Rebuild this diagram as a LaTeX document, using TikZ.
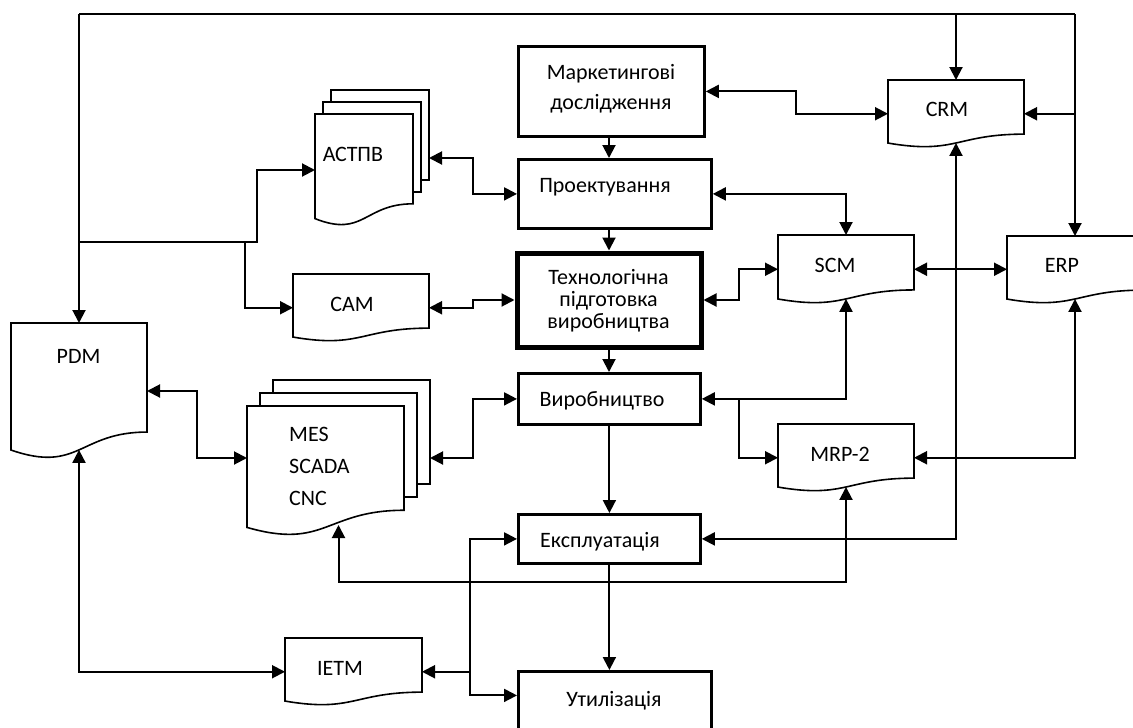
\documentclass[tikz,border=0pt]{standalone}
\usepackage{fontspec}
\setmainfont{Carlito}
\usetikzlibrary{arrows.meta,calc}

\tikzset{
  frame/.style={draw=none, inner sep=0pt, outer sep=0pt},
  stage/.style={draw, line width=2.8pt, inner sep=0pt, anchor=north west},
  keystage/.style={stage, line width=5pt},
  docline/.style={draw, line width=1.6pt, fill=white, line join=miter},
  txt/.style={inner sep=0pt, anchor=base, font=\fontsize{22}{26.4}\selectfont},
  bus/.style={line width=1.6pt},
  link/.style={line width=2pt, -{Triangle[length=13pt,width=13pt]}},
  dlink/.style={line width=2pt, {Triangle[length=13pt,width=13pt]}-{Triangle[length=13pt,width=13pt]}},
}

% single document sheet with a wavy lower edge
% #1 name, #2 left, #3 top, #4 width, #5 height
\newcommand\DocShape[5]{%
  \node[frame, anchor=north west, minimum width=#4pt, minimum height=#5pt] (#1) at (#2,#3) {};
  \draw[docline] (#1.north west) -- (#1.north east)
    -- ($(#1.north east)+(0,0.802*#5)$)
    .. controls ($(#1.north)+(0,0.802*#5)$) and ($(#1.north)+(0,1.1075*#5)$)
    .. ($(#1.north west)+(0,0.934*#5)$) -- cycle;
  \coordinate (#1-b) at ($(#1.north)+(0,0.933*#5)$);
}

% stack of three document sheets
% #1 name, #2 left, #3 top of the rear sheet, #4 width, #5 sheet height, #6 x offset, #7 y offset
\newcommand\DocStack[7]{%
  \node[frame, anchor=north west, minimum width={(#4+2*#6)*1pt}, minimum height={(#5+2*#7)*1pt}] (#1) at (#2,#3) {};
  \draw[docline] ({#2+2*#6},#3) rectangle ({#2+2*#6+#4},{#3+0.802*#5});
  \draw[docline] ({#2+#6},{#3+#7}) rectangle ({#2+#6+#4},{#3+#7+0.802*#5});
  \DocShape{#1-f}{#2}{#3+2*#7}{#4}{#5}%
}

\begin{document}
\begin{tikzpicture}[x=1pt,y=-1pt]
\useasboundingbox (0,0) rectangle (1133,728);
\begin{scope}
\clip (0,0) rectangle (1133,728);

% life-cycle stages
\node[stage, minimum width=186pt, minimum height=90pt] (mk) at (517,45) {};
\node[stage, minimum width=193pt, minimum height=69pt] (pr) at (517,158) {};
\node[keystage, minimum width=184pt, minimum height=94pt] (tp) at (514.5,250.5) {};
\node[stage, minimum width=182pt, minimum height=51pt] (vy) at (517,372) {};
\node[stage, minimum width=182pt, minimum height=49pt] (ek) at (517,513) {};
\node[stage, minimum width=193pt, minimum height=70pt] (ut) at (517,670) {};

% multi-line texts sit on the baseline of their last line
\node[txt, align=center, font=\fontsize{22}{30.5}\selectfont] (mk-text) at (611,109.5) {Маркетингові\\дослідження};
\node[txt] (pr-text) at (605,192) {Проектування};
\node[txt, align=center, font=\fontsize{22}{22}\selectfont] (tp-text) at (608.5,328) {Технологічна\\підготовка\\виробництва};
\node[txt] (vy-text) at (602,406) {Виробництво};
\node[txt] (ek-text) at (600,547) {Експлуатація};
\node[txt] (ut-text) at (614,706) {Утилізація};

% information systems
\DocShape{crm}{888}{80}{136}{67.5}
\DocShape{scm}{778}{235}{136}{68.5}
\DocShape{erp}{1007}{236}{136}{67.5}
\DocShape{mrp}{778}{424}{136}{67.5}
\DocShape{cam}{293}{274}{136}{67.5}
\DocShape{ietm}{285}{638}{137}{67.5}
\DocShape{pdm}{11}{323}{136}{136}
\DocStack{astpv}{315}{90}{98}{112}{8}{12}
\DocStack{mes}{247}{380}{157}{130}{13}{13}
\coordinate (mes-b) at ($(mes.south)+(0,-11)$);

\node[txt] (crm-text) at (947,116) {CRM};
\node[txt] (scm-text) at (835,272) {SCM};
\node[txt] (erp-text) at (1062,272) {ERP};
\node[txt] (mrp-text) at (840,461) {MRP-2};
\node[txt] (cam-text) at (352,311) {CAM};
\node[txt] (ietm-text) at (340,675) {IETM};
\node[txt] (pdm-text) at (78.5,363) {PDM};
\node[txt] (astpv-text) at (353,161) {АСТПВ};
\node[txt, anchor=base west, align=left, font=\fontsize{22}{32}\selectfont] (mes-text) at (289,505) {MES\\SCADA\\CNC};

% top bus
\coordinate (busL) at (pdm.north |- 0,14);
\coordinate (busR) at (erp.north |- 0,14);
\coordinate (fork1) at (busL |- 0,242);
\coordinate (fork2) at (245,242);
\draw[bus] (busL) -- (busR);
\draw[link] (busL) -- (pdm.north);
\draw[link] (busR) -- (erp.north);
\draw[link] (crm.north |- busL) -- (crm.north);
\draw[link] (crm.east -| busR) -- (crm.east);
\draw[link] (fork1) -- ++(178,0) |- (astpv-f.west);
\draw[link] (fork2) |- (cam.west);

% stage sequence
\draw[link] (tp.north |- mk.south) -- (tp.north |- pr.north);
\draw[link] (tp.north |- pr.south) -- (tp.north);
\draw[link] (tp.south) -- (tp.south |- vy.north);
\draw[link] (vy.south) -- (vy.south |- ek.north);
\draw[link] (ek.south) -- (ek.south |- ut.north);

% exchanges with the systems
\draw[dlink] (mk.east) -- ++(90,0) |- (crm.west);
\draw[dlink] (pr.east) -| (scm.north);
\draw[dlink] (tp.east) -- ++(35,0) |- (scm.west);
\draw[dlink] (scm.east) -- (scm.east -| erp.west);
\draw[dlink] (vy.east) -| (scm-b);
\draw[link] ([xshift=37pt]vy.east) |- (mrp.west);
\draw[dlink] (crm-b) |- (ek.east);
\draw[dlink] (erp-b) |- (mrp.east);
\draw[dlink] (cam.east) -- ++(44,0) |- (tp.west);
\draw[dlink] (astpv.east) -- ++(44,0) |- (pr.west);
\draw[dlink] (mes.east) -- ++(43,0) |- (vy.west);
\draw[dlink] (pdm.east) -- ++(50,0) |- (mes.west);
\draw[dlink] (pdm-b) |- (ietm.west);
\draw[dlink] (mes-b) -- ++(0,57) -| (mrp-b);

\coordinate (fork3) at ([xshift=48pt]ietm.east);
\draw[link] (fork3) -- (ietm.east);
\draw[link] (fork3) |- (ek.west);
\draw[link] (fork3) |- ([yshift=11pt]ut.west);

\end{scope}
\end{tikzpicture}
\end{document}
